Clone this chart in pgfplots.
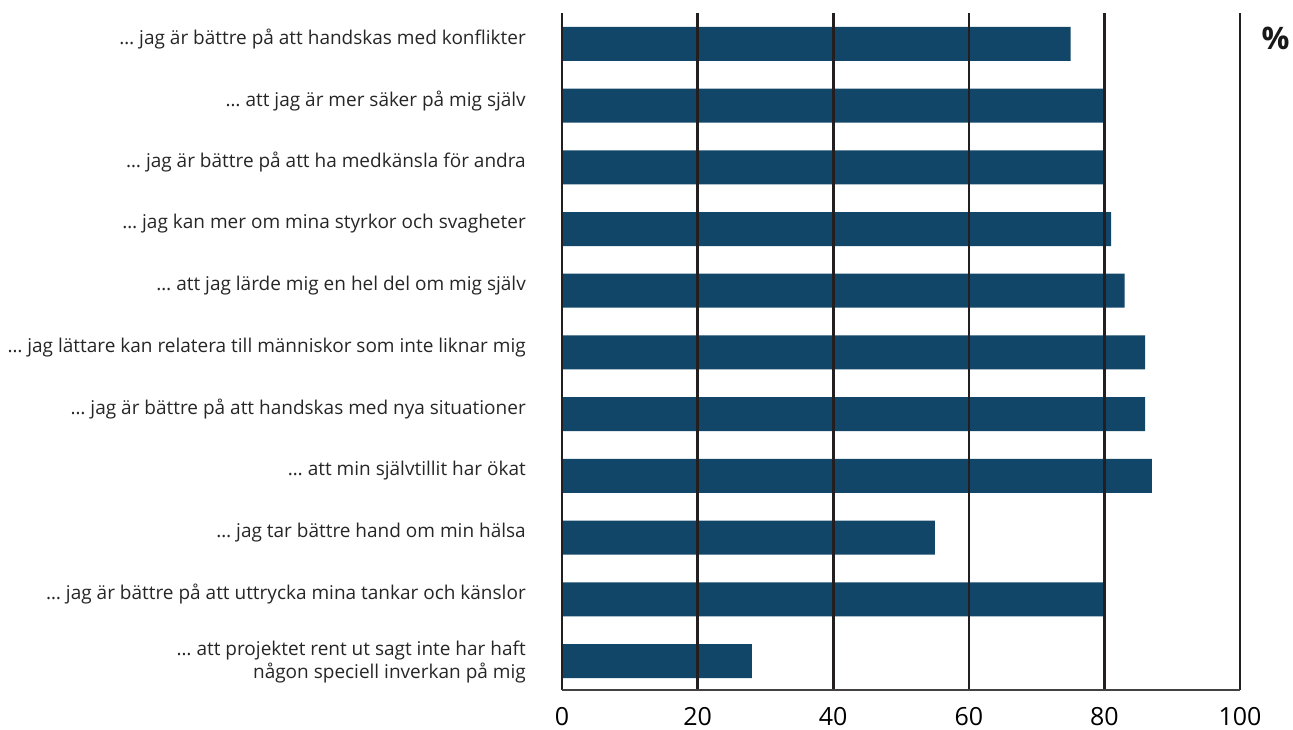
\documentclass[border=0pt]{standalone}
\usepackage{fontspec}
\setmainfont{Open Sans}
\usepackage{pgfplots}
\pgfplotsset{compat=1.18}
\definecolor{barblue}{RGB}{17,70,105}
\definecolor{gridk}{RGB}{35,31,32}
\begin{document}
\begin{tikzpicture}[x=1pt,y=1pt]
\useasboundingbox (0,0) rectangle (1293,729);
\begin{axis}[
  at={(562pt,39pt)}, anchor=south west,
  scale only axis, width=678pt, height=677pt,
  xbar, bar width=34pt,
  xmin=0, xmax=100, ymin=0.5, ymax=11.47,
  y dir=reverse,
  xtick={0,20,40,60,80,100},
  ytick={1,2,3,4,5,6,7,8,9,10},
  yticklabels={
    {… jag är bättre på att handskas med konflikter},
    {… att jag är mer säker på mig själv},
    {… jag är bättre på att ha medkänsla för andra},
    {… jag kan mer om mina styrkor och svagheter},
    {… att jag lärde mig en hel del om mig själv},
    {… jag lättare kan relatera till människor som inte liknar mig},
    {… jag är bättre på att handskas med nya situationer},
    {… att min självtillit har ökat},
    {… jag tar bättre hand om min hälsa},
    {… jag är bättre på att uttrycka mina tankar och känslor}
  },
  extra y ticks={11},
  extra y tick labels={{{… att projektet rent ut sagt inte har haft\\någon speciell inverkan på mig}}},
  extra y tick style={yticklabel style={yshift=-6.5pt}},
  major tick length=0pt,
  xmajorgrids, major grid style={gridk, line width=2.6pt},
  axis on top,
  axis x line*=bottom, axis y line*=left,
  x axis line style={draw=gridk!85, line width=1.6pt, -},
  y axis line style={draw=none},
  /pgf/number format/assume math mode=true,
  xticklabel style={font=\fontsize{25}{30}\selectfont, inner sep=0pt, yshift=-17pt},
  yticklabel style={font=\fontsize{19}{23}\selectfont, align=right, inner sep=0pt, xshift=-36pt, yshift=5pt, text=black!85},
  clip=false,
]
\addplot[fill=barblue, draw=none] coordinates {
  (75,1) (80,2) (80,3) (81,4) (83,5) (86,6) (86,7) (87,8) (55,9) (80,10) (28,11)
};
\end{axis}
\node[font=\bfseries\fontsize{31}{36}\selectfont, inner sep=0pt, text=black!90] at (1275.5,691) {\%};
\end{tikzpicture}
\end{document}
